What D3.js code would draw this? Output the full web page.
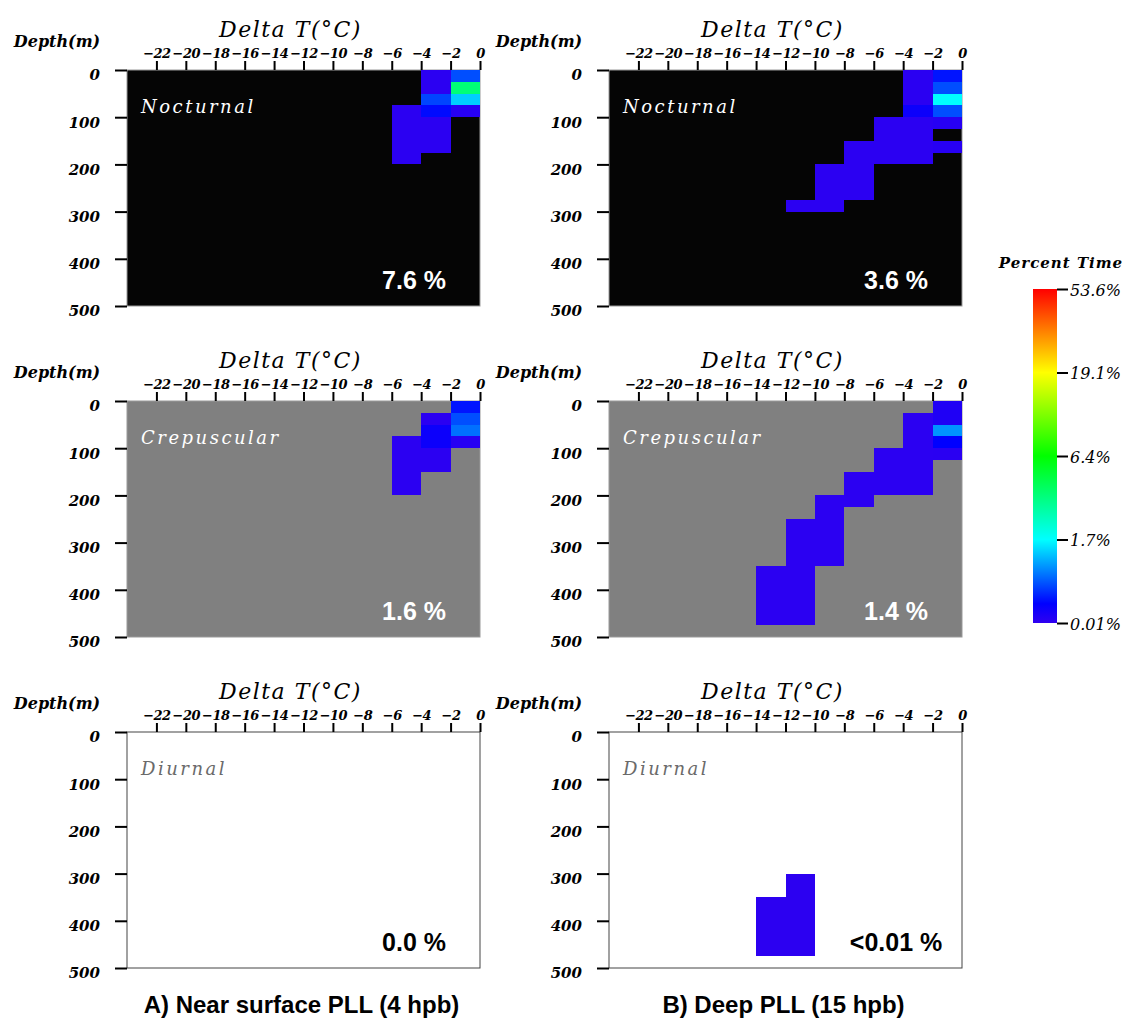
<!DOCTYPE html>
<html>
<head>
<meta charset="utf-8">
<script src="https://cdn.jsdelivr.net/npm/d3@7/dist/d3.min.js"></script>
<style>
  body { margin: 0; background: #fff; }
  svg { display: block; }
</style>
</head>
<body>
<div id="chart"></div>
<script>
// tick values
const xTicks = [-22, -20, -18, -16, -14, -12, -10, -8, -6, -4, -2, 0];
const yTicks = [0, 100, 200, 300, 400, 500];
const barTicks = [0.01, 1.7, 6.4, 19.1, 53.6];
const barColors = ["#3000f0", "#0000ff", "#00ffff", "#00ff00", "#ffff00", "#ff0000"];
const barStops = [0.01, 0.4, 1.7, 6.4, 19.1, 53.6];

// cells: [deltaT left edge, depth top, depth bottom, percent time]
const nearNocturnal = [
  [-2, 0, 25, 0.8], [-2, 25, 50, 4.2], [-2, 50, 75, 1.45], [-2, 75, 100, 0.08],
  [-4, 0, 50, 0.05], [-4, 50, 75, 0.75], [-4, 75, 100, 0.45], [-4, 100, 175, 0.05],
  [-6, 75, 200, 0.05]
];
const nearCrepuscular = [
  [-2, 0, 25, 0.5], [-2, 25, 50, 0.8], [-2, 50, 75, 0.97], [-2, 75, 100, 0.08],
  [-4, 25, 50, 0.06], [-4, 50, 100, 0.3], [-4, 100, 150, 0.05],
  [-6, 75, 200, 0.05]
];
const nearDiurnal = [];
const deepNocturnal = [
  [-2, 0, 25, 0.5], [-2, 25, 50, 0.8], [-2, 50, 75, 1.7], [-2, 75, 100, 0.8],
  [-2, 100, 125, 0.08], [-2, 150, 175, 0.08],
  [-4, 0, 75, 0.06], [-4, 75, 100, 0.3], [-4, 100, 200, 0.05],
  [-6, 100, 200, 0.05],
  [-8, 150, 275, 0.05],
  [-10, 200, 300, 0.05],
  [-12, 275, 300, 0.05]
];
const deepCrepuscular = [
  [-2, 0, 50, 0.15], [-2, 50, 75, 1.15], [-2, 75, 100, 0.4], [-2, 100, 125, 0.06],
  [-4, 25, 200, 0.05],
  [-6, 100, 200, 0.05],
  [-8, 150, 225, 0.05],
  [-10, 200, 350, 0.05],
  [-12, 250, 475, 0.05],
  [-14, 350, 475, 0.05]
];
const deepDiurnal = [
  [-12, 300, 475, 0.04],
  [-14, 350, 475, 0.04]
];

const periodNames = ["Nocturnal", "Crepuscular", "Diurnal"];
const periodFill = ["#050505", "#808080", "#ffffff"];
const periodText = ["#ffffff", "#ffffff", "#6a6a6a"];
const percentLabels = [["7.6 %", "1.6 %", "0.0 %"], ["3.6 %", "1.4 %", "<0.01 %"]];
const captions = ["A) Near surface PLL (4 hpb)", "B) Deep PLL (15 hpb)"];
const panelData = [
  [nearNocturnal, nearCrepuscular, nearDiurnal],
  [deepNocturnal, deepCrepuscular, deepDiurnal]
];

const W = 1129, H = 1023;
const plotW = 353, plotH = 236;
const colX = [127, 609];
const rowY = [70, 401, 732];
const serif = "'DejaVu Serif', serif";
const sans = "'Liberation Sans', Arial, sans-serif";

let svg = d3.select("#chart").append("svg")
    .attr("width", W)
    .attr("height", H);

let x = d3.scaleLinear().domain([-24, 0]).range([0, plotW]);
let y = d3.scaleLinear().domain([0, 500]).range([0, plotH]);

let color = d3.scaleLinear()
    .domain(barStops)
    .range(barColors)
    .clamp(true);

for (let c = 0; c < 2; c++) {
    for (let r = 0; r < 3; r++) {
        let g = svg.append("g")
            .attr("transform", "translate(" + colX[c] + "," + rowY[r] + ")");

        g.append("rect")
            .attr("width", plotW)
            .attr("height", plotH)
            .attr("fill", periodFill[r])
            .attr("stroke", r == 2 ? "#444" : "#999")
            .attr("stroke-width", 1);

        g.selectAll("rect.cell")
            .data(panelData[c][r])
            .enter()
            .append("rect")
            .attr("class", "cell")
            .attr("shape-rendering", "crispEdges")
            .attr("x", d => x(d[0]))
            .attr("y", d => y(d[1]))
            .attr("width", d => x(d[0] + 2) - x(d[0]))
            .attr("height", d => y(d[2]) - y(d[1]))
            .attr("fill", d => color(d[3]));

        // top axis
        let xa = g.append("g")
            .call(d3.axisTop(x).tickValues(xTicks).tickSize(9).tickPadding(3)
                .tickFormat(d => d < 0 ? "\u2212" + Math.abs(d) : d));
        xa.select(".domain").remove();
        xa.selectAll("line").attr("stroke", "#000").attr("stroke-width", 2);
        xa.selectAll("text")
            .attr("font-family", serif)
            .attr("font-style", "italic")
            .attr("font-weight", "bold")
            .attr("font-size", 13)
            .attr("letter-spacing", -0.5)
            .attr("fill", "#000");

        // left axis
        let ya = g.append("g")
            .call(d3.axisLeft(y).tickValues(yTicks).tickSize(12).tickPadding(15));
        ya.select(".domain").remove();
        ya.selectAll("line").attr("stroke", "#000").attr("stroke-width", 2);
        ya.selectAll("text")
            .attr("y", 5)
            .attr("font-family", serif)
            .attr("font-style", "italic")
            .attr("font-weight", "bold")
            .attr("font-size", 15)
            .attr("fill", "#000");

        g.append("text")
            .attr("x", plotW / 2 - 13)
            .attr("y", -33)
            .attr("text-anchor", "middle")
            .attr("font-family", serif)
            .attr("font-style", "italic")
            .attr("font-size", 22)
            .attr("letter-spacing", 1.5)
            .text("Delta  T(\u00b0C)");

        g.append("text")
            .attr("x", -70)
            .attr("y", -23)
            .attr("text-anchor", "middle")
            .attr("font-family", serif)
            .attr("font-style", "italic")
            .attr("font-weight", "bold")
            .attr("font-size", 16)
            .text("Depth(m)");

        g.append("text")
            .attr("x", 14)
            .attr("y", 43)
            .attr("font-family", serif)
            .attr("font-style", "italic")
            .attr("font-size", 18)
            .attr("letter-spacing", 2.5)
            .attr("fill", periodText[r])
            .text(periodNames[r]);

        g.append("text")
            .attr("x", plotW - 66)
            .attr("y", plotH - 17)
            .attr("text-anchor", "middle")
            .attr("font-family", sans)
            .attr("font-weight", "bold")
            .attr("font-size", 25)
            .attr("fill", r == 2 ? "#000" : "#fff")
            .text(percentLabels[c][r]);
    }

    svg.append("text")
        .attr("x", colX[c] + plotW / 2 - 2)
        .attr("y", 1013)
        .attr("text-anchor", "middle")
        .attr("font-family", sans)
        .attr("font-weight", "bold")
        .attr("font-size", 24)
        .text(captions[c]);
}

// colour bar
let barX = 1033, barTop = 289, barW = 24, barH = 334;
let barPos = d3.scaleLinear()
    .domain(barTicks)
    .range(barTicks.map((d, i) => barTop + barH - i * barH / (barTicks.length - 1)));

let grad = svg.append("defs").append("linearGradient")
    .attr("id", "pt")
    .attr("x1", 0).attr("y1", 1).attr("x2", 0).attr("y2", 0);
grad.selectAll("stop")
    .data(barStops)
    .enter()
    .append("stop")
    .attr("offset", d => (barTop + barH - barPos(d)) / barH)
    .attr("stop-color", d => color(d));

svg.append("rect")
    .attr("x", barX)
    .attr("y", barTop)
    .attr("width", barW)
    .attr("height", barH)
    .attr("fill", "url(#pt)");

let ba = svg.append("g")
    .attr("transform", "translate(" + (barX + barW) + ",0)")
    .call(d3.axisRight(barPos).tickValues(barTicks).tickSize(11).tickPadding(2)
        .tickFormat(d => d + "%"));
ba.select(".domain").remove();
ba.selectAll("line").attr("stroke", "#000").attr("stroke-width", 2);
ba.selectAll("text")
    .attr("y", 1)
    .attr("font-family", serif)
    .attr("font-style", "italic")
    .attr("font-size", 16)
    .attr("fill", "#000");

svg.append("text")
    .attr("x", 1061)
    .attr("y", 268)
    .attr("text-anchor", "middle")
    .attr("font-family", serif)
    .attr("font-style", "italic")
    .attr("font-weight", "bold")
    .attr("font-size", 15)
    .attr("letter-spacing", 1)
    .text("Percent Time");
</script>
</body>
</html>
